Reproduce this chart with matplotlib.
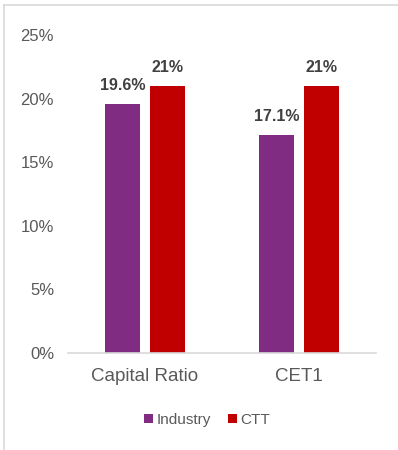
import matplotlib.pyplot as plt
import numpy as np
from matplotlib.lines import Line2D

plt.rcParams['font.family'] = ['Liberation Sans', 'DejaVu Sans']

categories = ['Capital Ratio', 'CET1']
industry = [19.6, 17.1]
ctt = [21.0, 21.0]
industry_labels = ['19.6%', '17.1%']
ctt_labels = ['21%', '21%']
yticks = [0, 5, 10, 15, 20, 25]

purple = '#7F2C82'
red = '#C00000'
grey_text = '#595959'

fig = plt.figure(figsize=(3.98, 4.5), dpi=100)
ax = fig.add_axes([68/398, 1 - 353/450, (376-68)/398, (353-35)/450])

x = np.arange(len(categories))
w = 0.227
off = 0.143
b1 = ax.bar(x - off, industry, w, color=purple, label='Industry')
b2 = ax.bar(x + off, ctt, w, color=red, label='CTT')

for bars, labels in ((b1, industry_labels), (b2, ctt_labels)):
    for rect, lab in zip(bars, labels):
        ax.annotate(lab, (rect.get_x() + rect.get_width() / 2, rect.get_height()),
                    xytext=(0, 8), textcoords='offset points', ha='center', va='bottom',
                    fontsize=11.5, fontweight='bold', color='#404040')

ax.set_xlim(-0.5, 1.5)
ax.set_ylim(0, 25)
ax.set_yticks(yticks)
ax.set_yticklabels([f'{t}%' for t in yticks])
ax.set_xticks(x)
ax.set_xticklabels(categories)
ax.tick_params(axis='y', length=0, pad=10, labelsize=12, labelcolor=grey_text)
ax.tick_params(axis='x', length=0, pad=11, labelsize=13.5, labelcolor=grey_text)
for s in ('top', 'right', 'left'):
    ax.spines[s].set_visible(False)
ax.spines['bottom'].set_color('#D9D9D9')
ax.spines['bottom'].set_linewidth(1.2)

ax.legend(loc='center', bbox_to_anchor=(207/398, 1 - 420/450), bbox_transform=fig.transFigure,
          ncol=2, frameon=False, fontsize=11, labelcolor=grey_text,
          handlelength=0.6, handleheight=0.6, handletextpad=0.25, columnspacing=1.1)

# thin frame on the left and top edges
fig.add_artist(Line2D([4/398, 4/398], [0, 1 - 5/450], color='#D9D9D9', lw=1.2))
fig.add_artist(Line2D([4/398, 1], [1 - 5/450, 1 - 5/450], color='#D9D9D9', lw=1.2))

fig.savefig('out.png', dpi=100)
